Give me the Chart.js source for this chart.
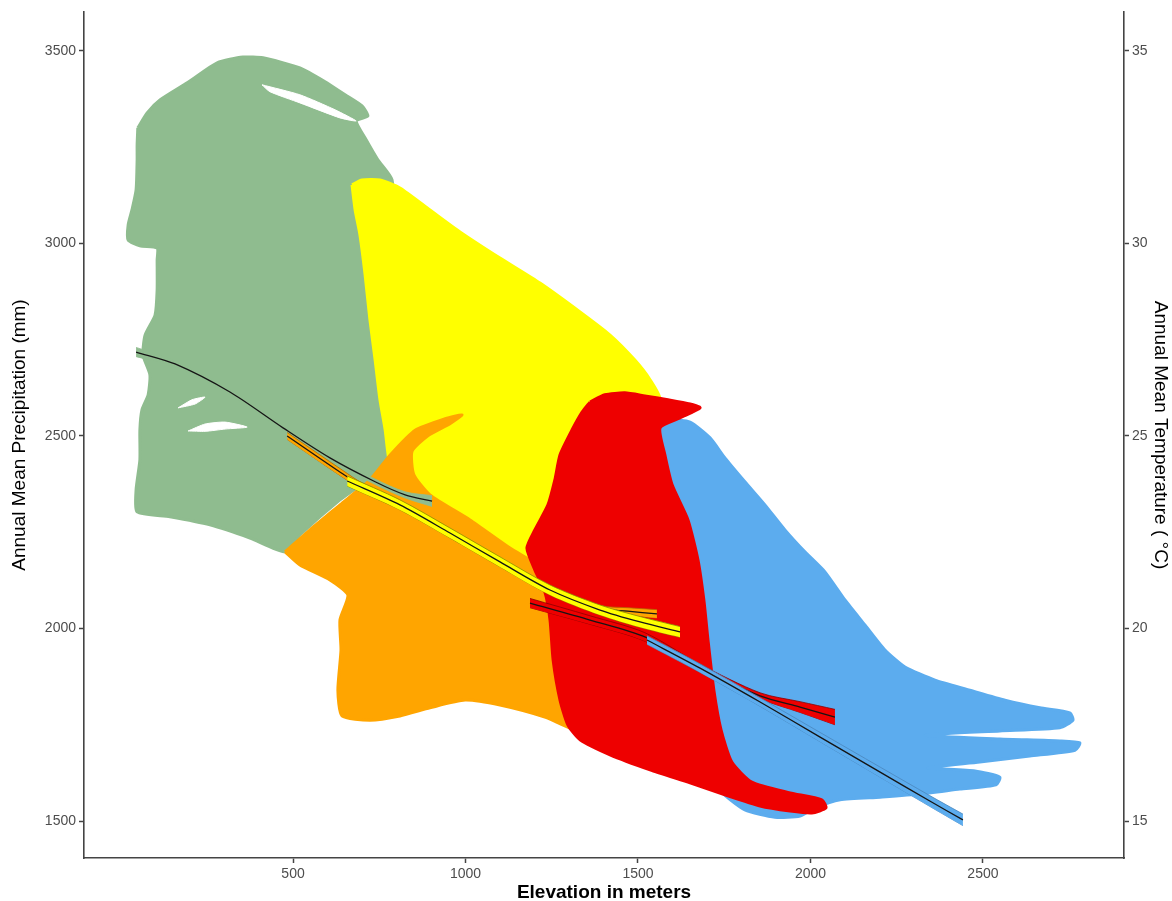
<!DOCTYPE html>
<html>
<head>
<meta charset="utf-8">
<title>Elevation vs precipitation</title>
<script src="https://cdn.jsdelivr.net/npm/chart.js@4.4.1/dist/chart.umd.min.js"></script>
<style>
  html, body { margin: 0; padding: 0; background: #fff; }
  #wrap { width: 1172px; height: 901px; position: relative; }
</style>
</head>
<body>
<div id="wrap"><canvas id="chart"></canvas></div>
<script>
// tick labels
const xTicks = [500, 1000, 1500, 2000, 2500];
const precipTicks = [1500, 2000, 2500, 3000, 3500];
const tempTicks = [15, 20, 25, 30, 35];

// outline of each zone's point cloud, [elevation m, precipitation mm]
const greenZone = [[50,3300],[77,3339],[115,3373],[193,3417],[280,3469],[355,3484],[413,3482],[520,3456],[593,3420],[651,3386],[700,3357],[717,3331],[683,3318],[712,3269],[746,3217],[787,3165],[804,2957],[825,2723],[845,2542],[752,2412],[636,2334],[520,2243],[477,2199],[375,2235],[259,2269],[143,2290],[48,2303],[45,2360],[56,2438],[56,2516],[62,2568],[80,2607],[85,2659],[65,2710],[71,2762],[100,2814],[106,2879],[106,2957],[106,2988],[56,2994],[22,3009],[22,3048],[33,3087],[45,3139],[48,3217],[48,3256]];
const yellowZone = [[671,3152],[700,3165],[752,3165],[810,3144],[897,3087],[984,3030],[1100,2962],[1216,2897],[1332,2822],[1419,2762],[1491,2697],[1535,2646],[1564,2594],[1506,2516],[1390,2386],[1303,2230],[1245,2100],[1158,2147],[1042,2209],[926,2277],[825,2347],[781,2425],[767,2516],[752,2594],[738,2697],[723,2801],[709,2918],[694,3022],[680,3087]];
const orangeZone = [[477,2199],[549,2256],[636,2321],[723,2386],[781,2450],[854,2515],[941,2545],[990,2555],[955,2532],[890,2500],[845,2460],[850,2400],[897,2347],[1013,2282],[1129,2209],[1230,2152],[1288,2074],[1317,1866],[1332,1736],[1230,1770],[1100,1801],[999,1814],[897,1794],[810,1773],[723,1762],[642,1773],[630,1840],[639,1944],[636,2022],[659,2087],[607,2126],[520,2165]];
const redZone = [[1361,2588],[1404,2607],[1462,2612],[1520,2604],[1587,2594],[1651,2583],[1680,2573],[1622,2547],[1564,2521],[1578,2451],[1599,2373],[1645,2282],[1674,2178],[1691,2074],[1703,1970],[1720,1840],[1741,1736],[1772,1653],[1830,1601],[1941,1573],[2033,1555],[2045,1534],[2004,1521],[1941,1526],[1854,1539],[1752,1568],[1651,1599],[1535,1633],[1419,1672],[1332,1711],[1297,1749],[1274,1814],[1254,1918],[1245,2022],[1230,2095],[1201,2152],[1178,2209],[1201,2256],[1239,2321],[1259,2386],[1274,2451],[1309,2516],[1338,2562]];
const blueZone = [[1506,2516],[1549,2531],[1593,2542],[1651,2536],[1709,2495],[1752,2443],[1810,2381],[1868,2321],[1926,2256],[1984,2199],[2042,2147],[2100,2074],[2158,2009],[2216,1944],[2274,1900],[2361,1866],[2462,1840],[2564,1814],[2665,1794],[2752,1781],[2761,1762],[2723,1742],[2549,1734],[2332,1723],[2549,1713],[2723,1708],[2781,1703],[2767,1684],[2636,1669],[2491,1653],[2341,1638],[2477,1630],[2549,1614],[2538,1594],[2433,1583],[2317,1570],[2202,1562],[2086,1555],[2013,1534],[1970,1513],[1897,1510],[1810,1529],[1738,1581],[1680,1711],[1651,1866],[1622,2074],[1578,2282],[1535,2412]];

// empty slits inside the green cloud
const hookGap = [[410,3412],[520,3386],[622,3347],[683,3318],[636,3326],[520,3365],[433,3394]];
const slitUpper = [[167,2573],[207,2594],[245,2601],[216,2583]];
const slitLower = [[196,2513],[245,2531],[303,2536],[367,2523],[303,2518],[245,2512]];

// smoothed trends with their bands
const greenFitX = [45,158,317,471,607,738,825,903];
const greenFit  = [2718,2687,2614,2521,2443,2381,2347,2331];
const greenLow  = [2706,2679,2607,2514,2436,2374,2339,2317];
const greenHigh = [2730,2695,2621,2528,2450,2388,2355,2345];

const orangeFitX = [483,645,700,810,955,1100,1245,1390,1470,1555];
const orangeFit  = [2500,2401,2370,2323,2250,2175,2103,2052,2045,2038];
const orangeLow  = [2491,2392,2362,2315,2242,2167,2095,2044,2036,2027];
const orangeHigh = [2509,2410,2378,2331,2258,2183,2111,2060,2054,2049];

const yellowFitX = [657,810,955,1100,1245,1390,1506,1622];
const yellowFit  = [2383,2321,2248,2173,2100,2048,2017,1991];
const yellowLow  = [2370,2308,2235,2160,2087,2035,2003,1977];
const yellowHigh = [2396,2334,2261,2186,2113,2061,2031,2005];

const redFitX = [1187,1361,1520,1680,1854,1970,2071];
const redFit  = [2066,2022,1978,1897,1825,1796,1770];
const redLow  = [2054,2011,1967,1887,1817,1782,1750];
const redHigh = [2078,2033,1989,1907,1833,1810,1790];

const blueFitX = [1526,1680,1854,2028,2202,2346,2442];
const blueFit  = [1970,1897,1809,1718,1627,1552,1503];
const blueLow  = [1959,1886,1798,1706,1614,1538,1488];
const blueHigh = [1981,1908,1820,1730,1640,1566,1518];

const GREEN = '#8FBC8F', YELLOW = '#FFFF00', ORANGE = '#FFA500', RED = '#EE0000', BLUE = '#5CACEE';
const axisColor = '#444';
const tickColor = '#4D4D4D';

Chart.defaults.font.family = '"Liberation Sans", Arial, Helvetica, sans-serif';

const datasets = [];
let layer = 0;
function add(ds) {
    ds.order = 1000 - layer++;
    ds.pointRadius = 0;
    ds.pointHoverRadius = 0;
    ds.yAxisID = 'y';
    datasets.push(ds);
}

function cloud(outline, color, width) {
    const pts = outline.map(p => ({ x: p[0], y: p[1] }));
    pts.push(pts[0]);
    add({ data: pts, borderColor: color, backgroundColor: color, borderWidth: width,
          borderJoinStyle: 'round', fill: 'shape', tension: 0.2 });
}

function trend(xs, fit, lo, hi, color, edge) {
    const pts = ys => xs.map((x, i) => ({ x: x, y: ys[i] }));
    add({ data: pts(lo), borderColor: edge, borderWidth: 0.8, fill: false, tension: 0.3 });
    add({ data: pts(hi), borderColor: edge, borderWidth: 0.8, fill: '-1', backgroundColor: color, tension: 0.3 });
    add({ data: pts(fit), borderColor: '#151515', borderWidth: 1.3, fill: false, tension: 0.3 });
}

cloud(greenZone, GREEN, 3);
cloud(hookGap, '#fff', 1);
cloud(slitUpper, '#fff', 1);
cloud(slitLower, '#fff', 1);
cloud(yellowZone, YELLOW, 3);
cloud(orangeZone, ORANGE, 3);
cloud(blueZone, BLUE, 3);
cloud(redZone, RED, 3);

trend(greenFitX, greenFit, greenLow, greenHigh, GREEN, GREEN);
trend(orangeFitX, orangeFit, orangeLow, orangeHigh, ORANGE, '#b36b00');
trend(yellowFitX, yellowFit, yellowLow, yellowHigh, YELLOW, '#8a8a00');
trend(redFitX, redFit, redLow, redHigh, RED, '#8a0000');
trend(blueFitX, blueFit, blueLow, blueHigh, BLUE, '#4a86bd');

function fixedTicks(list) {
    return s => { s.ticks = list.map(v => ({ value: v })); };
}

const gridOpts = { drawOnChartArea: false, drawTicks: true, tickLength: 5, tickColor: axisColor, tickWidth: 1.5 };
const borderOpts = { display: true, color: axisColor, width: 1.6 };
const tickOpts = { color: tickColor, font: { size: 14 }, padding: 3, maxRotation: 0, callback: v => String(v) };

new Chart(document.getElementById('chart'), {
    type: 'line',
    data: { datasets: datasets },
    options: {
        responsive: true,
        maintainAspectRatio: false,
        animation: false,
        layout: { padding: { top: 12, left: 0, right: 0, bottom: 0 } },
        plugins: { legend: { display: false }, tooltip: { enabled: false } },
        scales: {
            x: {
                type: 'linear', min: -106, max: 2909,
                afterBuildTicks: fixedTicks(xTicks),
                afterFit: s => { s.height = 43; },
                grid: gridOpts, border: borderOpts, ticks: tickOpts,
                title: { display: true, text: 'Elevation in meters', color: '#000',
                         font: { size: 19, weight: 'bold' }, padding: { top: 0, bottom: -3 } }
            },
            y: {
                type: 'linear', position: 'left', min: 1404, max: 3601,
                afterBuildTicks: fixedTicks(precipTicks),
                afterFit: s => { s.width = 84; },
                grid: gridOpts, border: borderOpts, ticks: tickOpts,
                title: { display: true, text: 'Annual Mean Precipitation (mm)', color: '#000',
                         font: { size: 19 }, padding: { top: 8, bottom: 0 } }
            },
            y2: {
                type: 'linear', position: 'right', min: 14.04, max: 36.01,
                afterBuildTicks: fixedTicks(tempTicks),
                afterFit: s => { s.width = 48; },
                grid: gridOpts, border: borderOpts, ticks: tickOpts,
                title: { display: true, text: 'Annual Mean Temperature ( °C)', color: '#000',
                         font: { size: 19 }, padding: { top: 0, bottom: 0 } }
            }
        }
    }
});
</script>
</body>
</html>
